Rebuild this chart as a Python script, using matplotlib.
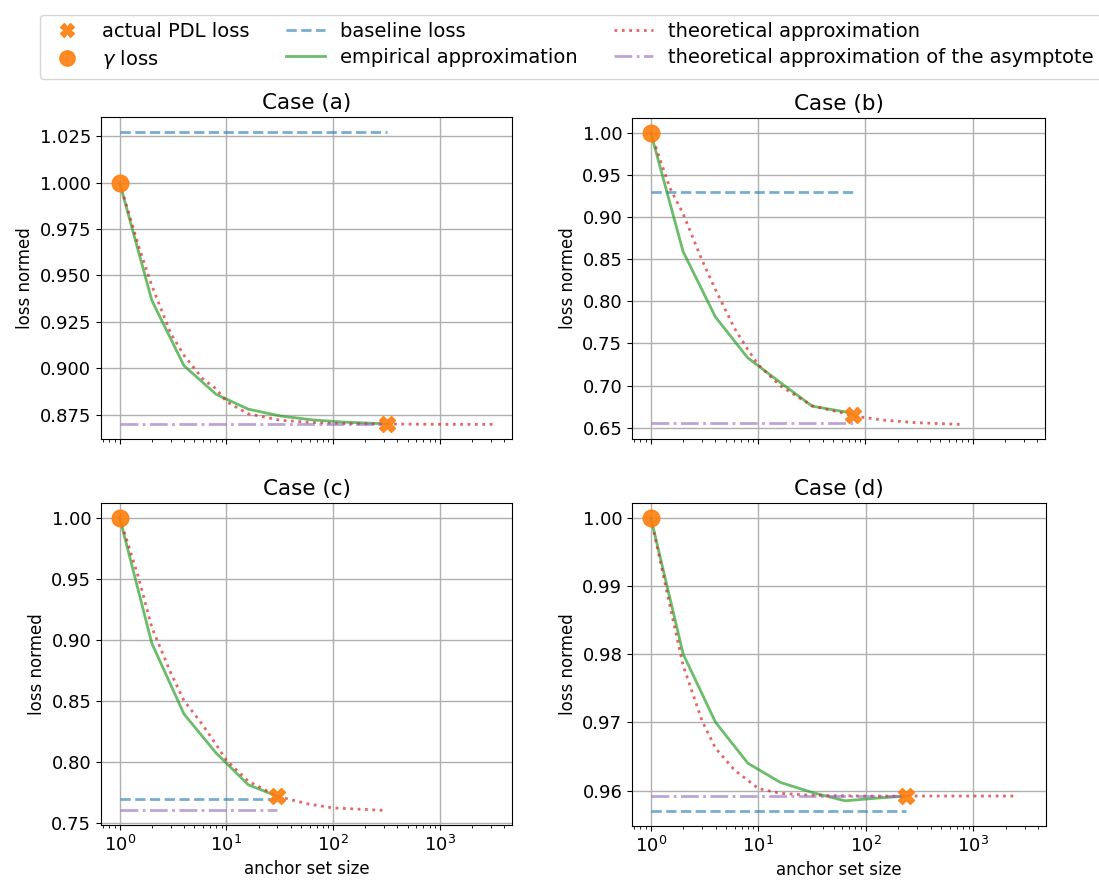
import matplotlib
matplotlib.use("Agg")
import matplotlib.pyplot as plt
from matplotlib.lines import Line2D

# ---------------- data ----------------
titles = ["Case (a)", "Case (b)", "Case (c)", "Case (d)"]

# anchor set size N for each case (actual PDL loss position)
pdl_x = [316, 77, 30, 236]
pdl_y = [0.8700, 0.665, 0.7715, 0.9592]

baseline_y = [1.0275, 0.9295, 0.7697, 0.95696]
asym_y = [0.8700, 0.6555, 0.7600, 0.9592]

emp_x_a = [1, 2, 4, 8, 16, 32, 64, 128, 256, 316]
emp_y_a = [1.0, 0.9366, 0.9014, 0.886, 0.878, 0.8743, 0.8722, 0.8710, 0.8703, 0.8702]
emp_x_b = [1, 2, 4, 8, 16, 32, 64, 77]
emp_y_b = [1.0, 0.859, 0.7815, 0.733, 0.704, 0.6756, 0.669, 0.666]
emp_x_c = [1, 2, 4, 8, 16, 30]
emp_y_c = [1.0, 0.897, 0.839, 0.807, 0.781, 0.7715]
emp_x_d = [1, 2, 4, 8, 16, 32, 64, 128, 236]
emp_y_d = [1.0, 0.980, 0.970, 0.964, 0.9612, 0.9597, 0.9585, 0.9589, 0.9592]

theo_x_a = [1, 1.5, 2, 3, 4, 6, 8, 10, 16, 32, 64, 100, 316, 1000, 3160]
theo_y_a = [1.0, 0.966, 0.9445, 0.919, 0.907, 0.8943, 0.889, 0.882, 0.8755, 0.872,
            0.8708, 0.8703, 0.8700, 0.8698, 0.8698]
theo_x_b = [1, 1.5, 2, 3, 4, 6, 8, 10, 16, 32, 64, 77, 150, 300, 770]
theo_y_b = [1.0, 0.935, 0.904, 0.849, 0.814, 0.7685, 0.743, 0.725, 0.700, 0.676,
            0.667, 0.664, 0.659, 0.656, 0.654]
theo_x_c = [1, 1.5, 2, 3, 4, 6, 8, 10, 16, 30, 60, 100, 300]
theo_y_c = [1.0, 0.951, 0.910, 0.873, 0.850, 0.830, 0.814, 0.801, 0.784, 0.7715,
            0.765, 0.762, 0.760]
theo_x_d = [1, 1.5, 2, 3, 4, 6, 8, 10, 16, 32, 100, 236, 1000, 2360]
theo_y_d = [1.0, 0.9872, 0.9783, 0.9702, 0.9662, 0.9630, 0.9615, 0.9603, 0.9596,
            0.9593, 0.9592, 0.9592, 0.9592, 0.9592]

emp_x = [emp_x_a, emp_x_b, emp_x_c, emp_x_d]
emp_y = [emp_y_a, emp_y_b, emp_y_c, emp_y_d]
theo_x = [theo_x_a, theo_x_b, theo_x_c, theo_x_d]
theo_y = [theo_y_a, theo_y_b, theo_y_c, theo_y_d]

# ---------------- plot ----------------
plt.rcParams['font.family'] = ['DejaVu Sans']
fig = plt.figure(figsize=(10.99, 8.85), dpi=100)

W, H = 1099, 885
boxes = [(101, 117, 512, 439), (632, 118, 1045, 439),
         (101, 503, 512, 825), (632, 503, 1046, 826)]
axes = []
for i, (l, t, r, b) in enumerate(boxes):
    rect = [l / W, 1 - b / H, (r - l) / W, (b - t) / H]
    if i == 0:
        ax = fig.add_axes(rect)
    else:
        ax = fig.add_axes(rect, sharex=axes[0])
    axes.append(ax)

for i, ax in enumerate(axes):
    N = pdl_x[i]
    ax.plot([1, N], [baseline_y[i]] * 2, ls='--', color='tab:blue', alpha=0.6, lw=2,
            label='baseline loss')
    ax.plot(emp_x[i], emp_y[i], color='tab:green', alpha=0.7, lw=2,
            label='empirical approximation')
    ax.plot(theo_x[i], theo_y[i], ls=':', color='tab:red', alpha=0.7, lw=2,
            label='theoretical approximation')
    ax.plot([1, N], [asym_y[i]] * 2, ls='-.', color='tab:purple', alpha=0.6, lw=2,
            label='theoretical approximation of the asymptote')
    ax.plot([N], [pdl_y[i]], ls='none', marker='X', ms=11, color='tab:orange',
            alpha=0.9, zorder=5)
    ax.plot([1], [1.0], ls='none', marker='o', ms=12, color='tab:orange',
            alpha=0.9, zorder=5)
    ax.set_xscale('log')
    ax.grid(True, color='#b0b0b0', lw=1)
    ax.set_title(titles[i], fontsize=15.5)
    ax.set_ylabel('loss normed', fontsize=12)
    ax.tick_params(labelsize=13)
    if i >= 2:
        ax.set_xlabel('anchor set size', fontsize=12)
    else:
        ax.tick_params(labelbottom=False)

handles = [
    Line2D([], [], ls='none', marker='X', ms=10, color='tab:orange', alpha=0.9),
    Line2D([], [], ls='none', marker='o', ms=11, color='tab:orange', alpha=0.9),
    Line2D([], [], ls='--', color='tab:blue', alpha=0.6, lw=2),
    Line2D([], [], color='tab:green', alpha=0.7, lw=2),
    Line2D([], [], ls=':', color='tab:red', alpha=0.7, lw=2),
    Line2D([], [], ls='-.', color='tab:purple', alpha=0.6, lw=2),
]
labels = ['actual PDL loss', r'$\gamma$ loss', 'baseline loss',
          'empirical approximation', 'theoretical approximation',
          'theoretical approximation of the asymptote']
fig.legend(handles, labels, ncol=3, loc='upper center',
           bbox_to_anchor=(0.5195, 0.988), fontsize=14, frameon=True,
           labelspacing=0.35, borderaxespad=0.2, columnspacing=1.85)

fig.savefig('out.png', dpi=100)
